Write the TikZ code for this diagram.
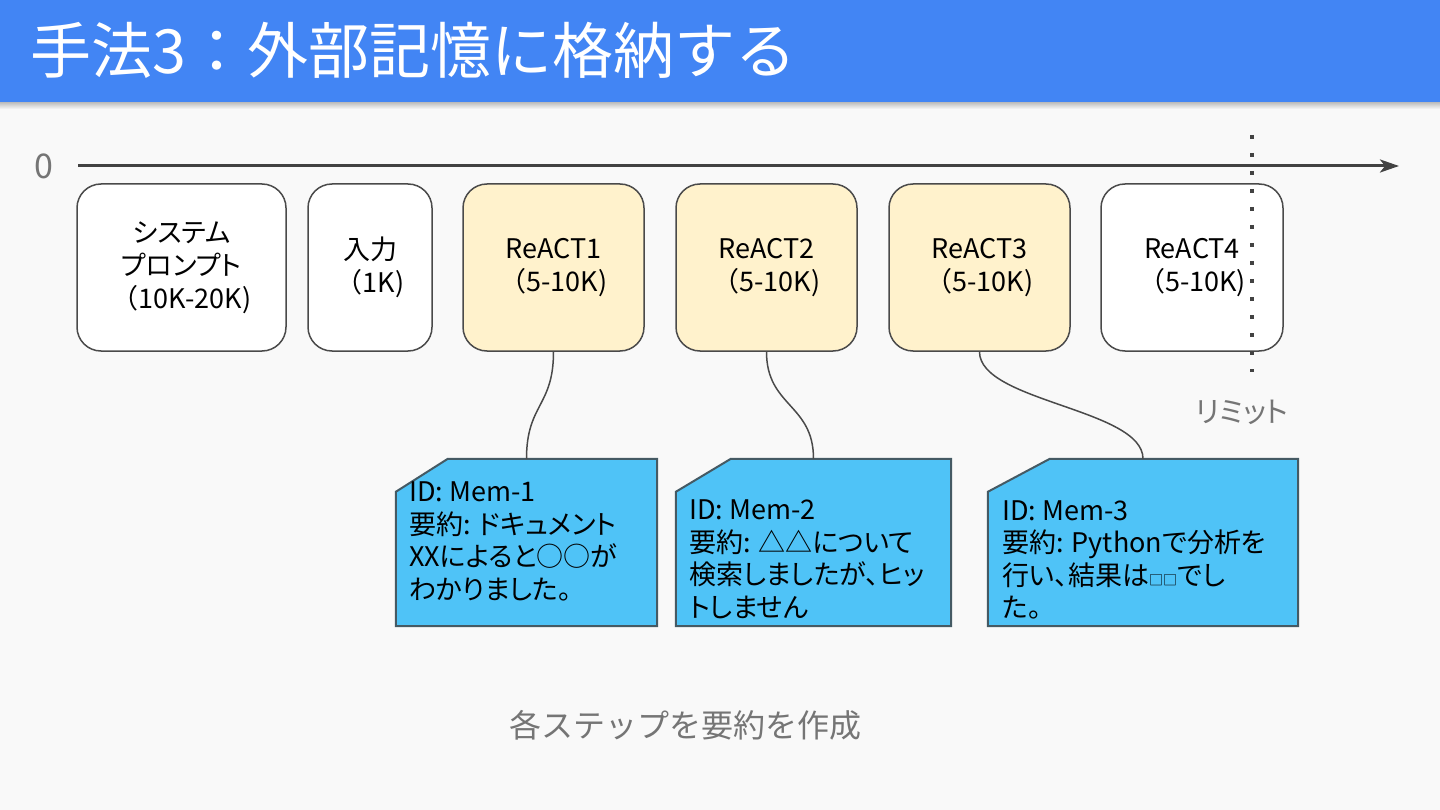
\documentclass[tikz,border=0pt]{standalone}
\usepackage{fontspec}
\setmainfont{Noto Sans CJK JP}
\newfontfamily\pfont[RawFeature=+palt]{Noto Sans CJK JP}
\usetikzlibrary{arrows.meta}
\definecolor{bgc}{HTML}{F9F9F9}
\definecolor{titleblue}{HTML}{4285F4}
\definecolor{edgec}{HTML}{4A4A4A}
\definecolor{reacty}{HTML}{FFF2CC}
\definecolor{cardblue}{HTML}{4FC3F7}
\definecolor{cardedge}{HTML}{455A64}
\definecolor{grayt}{HTML}{757575}
\definecolor{axisc}{HTML}{424242}
\tikzset{
  blk/.style={draw=edgec, line width=1.5pt, rounded corners=24pt, minimum height=167pt,
    inner sep=0pt, align=center, font=\pfont\fontsize{27}{33}\selectfont, fill=white, text=black},
  react/.style={blk, fill=reacty},
  cardbox/.style={draw=none, inner sep=0pt, minimum height=167pt},
  cardshape/.style={draw=cardedge, fill=cardblue, line width=2pt, line join=miter},
  cardtext/.style={font=\pfont\fontsize{27}{32.5}\selectfont, align=left, inner sep=0pt, anchor=west, text=black},
  conn/.style={draw=edgec, line width=1.5pt},
  axisline/.style={draw=axisc, line width=3pt, -{Stealth[length=19pt,width=13pt,inset=5pt]}},
  limitline/.style={draw=axisc, line width=4pt, dash pattern=on 4pt off 14pt},
  graylabel/.style={text=grayt, inner sep=0pt},
}
\newcommand{\smallsq}{{\fontsize{14}{14}\selectfont □□}}
\newcommand{\wlp}{{\rmfamily （}}
\begin{document}
\begin{tikzpicture}[x=1pt,y=-1pt]
  \useasboundingbox (0,0) rectangle (1440,810);
  \fill[bgc] (0,0) rectangle (1440,810);
  % title bar
  \shade[top color=black!30, bottom color=bgc] (0,101) rectangle (1440,109);
  \fill[titleblue] (0,0) rectangle (1440,102);
  \node[anchor=west, inner sep=0pt, text=white, font=\fontsize{61}{61}\selectfont] (title) at (30,50) {手法3：外部記憶に格納する};

  % axis
  \node[graylabel, font=\fontsize{34}{34}\selectfont] (zero) at (44,166) {0};
  \coordinate (axs) at (78,166);
  \coordinate (axe) at (1399,166);
  \draw[axisline] (axs) -- (axe);

  % blocks
  \node[blk, minimum width=209pt] (b1) at (181.5,267.5) {システム\\プロンプト\\\wlp 10K-20K)};
  \node[blk, minimum width=124pt] (b2) at (370,267.5) {入力\\\wlp 1K)};
  \node[react, minimum width=181pt] (r1) at (553.5,267.5) {ReACT1\\\wlp 5-10K)};
  \node[react, minimum width=181pt] (r2) at (766.5,267.5) {ReACT2\\\wlp 5-10K)};
  \node[react, minimum width=181pt] (r3) at (979.5,267.5) {ReACT3\\\wlp 5-10K)};
  \node[blk, minimum width=182pt] (r4) at (1192,267.5) {ReACT4\\\wlp 5-10K)};

  % limit
  \coordinate (lt) at (1252,135);
  \coordinate (lb) at (1252,372);
  \draw[limitline] (lt) -- (lb);
  \node[graylabel, font=\pfont\fontsize{29}{29}\selectfont] (lim) at (1242,412) {リミット};

  % cards
  \node[cardbox, minimum width=261pt] (m1) at (526.5,542.5) {};
  \node[cardbox, minimum width=275pt] (m2) at (813.5,542.5) {};
  \node[cardbox, minimum width=310pt] (m3) at (1143,542.5) {};
  \draw[cardshape] ([xshift=52pt]m1.north west) -- (m1.north east) -- (m1.south east) -- (m1.south west) -- ([yshift=-33pt]m1.north west) -- cycle;
  \draw[cardshape] ([xshift=55pt]m2.north west) -- (m2.north east) -- (m2.south east) -- (m2.south west) -- ([yshift=-33pt]m2.north west) -- cycle;
  \draw[cardshape] ([xshift=62pt]m3.north west) -- (m3.north east) -- (m3.south east) -- (m3.south west) -- ([yshift=-33pt]m3.north west) -- cycle;

  \node[cardtext] (t1) at (409,541.5) {ID: Mem-1\\要約: ドキュメント\\XXによると○○が\\わかりました。};
  \node[cardtext] (t2) at (689,559.5) {ID: Mem-2\\要約: △△について\\検索しましたが、ヒッ\\トしません};
  \node[cardtext] (t3) at (1002,560) {ID: Mem-3\\要約: Pythonで分析を\\行い、結果は\smallsq でし\\た。};

  % connectors
  \draw[conn] (r1.south) .. controls +(0,55) and +(0,-55) .. (m1.north);
  \draw[conn] (r2.south) .. controls +(0,55) and +(0,-55) .. (m2.north);
  \draw[conn] (r3.south) .. controls +(0,50) and +(0,-50) .. (m3.north);

  % caption
  \node[graylabel, font=\fontsize{32}{32}\selectfont] (cap) at (685,725) {各ステップを要約を作成};
\end{tikzpicture}
\end{document}
